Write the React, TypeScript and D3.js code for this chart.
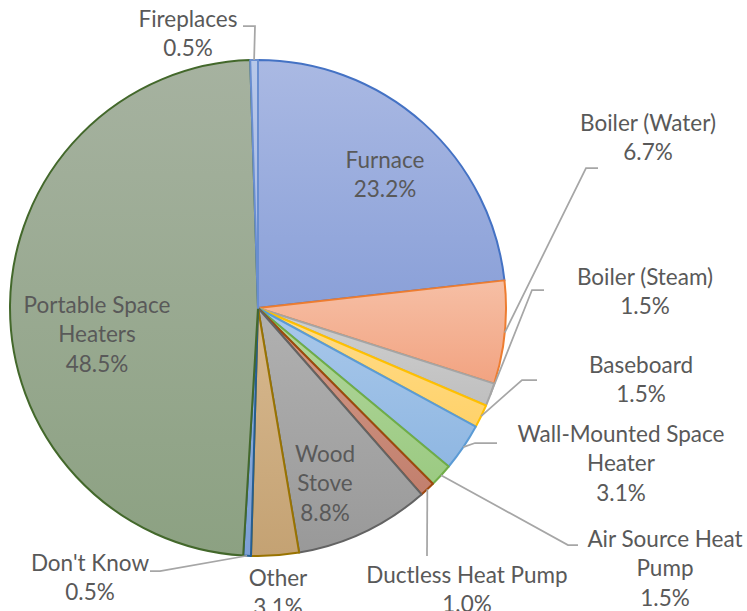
import React from "react";
import * as d3 from "d3";

const categories = [
  "Furnace",
  "Boiler (Water)",
  "Boiler (Steam)",
  "Baseboard",
  "Wall-Mounted Space Heater",
  "Air Source Heat Pump",
  "Ductless Heat Pump",
  "Wood Stove",
  "Other",
  "Don't Know",
  "Portable Space Heaters",
  "Fireplaces",
];
const values = [23.2, 6.7, 1.5, 1.5, 3.1, 1.5, 1.0, 8.8, 3.1, 0.5, 48.5, 0.5];
const labelLines = [
  ["Furnace"],
  ["Boiler (Water)"],
  ["Boiler (Steam)"],
  ["Baseboard"],
  ["Wall-Mounted Space", "Heater"],
  ["Air Source Heat", "Pump"],
  ["Ductless Heat Pump"],
  ["Wood", "Stove"],
  ["Other"],
  ["Don't Know"],
  ["Portable Space", "Heaters"],
  ["Fireplaces"],
];

// styles
const strokeColors = ["#4472c4", "#ed7d31", "#a5a5a5", "#ffc000", "#5b9bd5", "#70ad47", "#9e480e", "#636363", "#997300", "#255e91", "#43682b", "#698ed0"];
const fillTop = ["#aab9e3", "#f6bfa5", "#d0d0d0", "#ffdc8c", "#a9c8ea", "#b3d79d", "#d29c8c", "#b1b1b1", "#d8b990", "#92b0de", "#a6b2a0", "#b8c8e9"];
const fillBottom = ["#8aa0d8", "#f2a381", "#bfbfbf", "#ffd26a", "#8fb7e2", "#9bca82", "#c27f6d", "#999999", "#c4a273", "#7d9fd4", "#8ca182", "#a3b6e2"];

// label layout: [centerX, firstLineCenterY], leader elbow points (after slice edge)
const labelPos: [number, number][] = [
  [385, 160], [648, 123], [645, 277], [641, 365], [621, 434], [665, 539],
  [467, 575], [325, 454], [278, 578], [90, 563], [97, 305], [188, 19],
];
const leaders: ([number, number][] | null)[] = [
  null,
  [[586, 168], [598, 168]],
  [[532, 290], [544, 290]],
  [[522, 380], [537, 380]],
  [[475, 443], [497, 443]],
  [[568, 545], [578, 545]],
  [[427, 556]],
  null,
  null,
  [[160, 571], [150, 571]],
  null,
  [[255, 26], [243, 26]],
];

const W = 747, H = 611;
const cx = 258, cy = 308, R = 248;
const lineH = 29.5;

export default function App() {
  const pie = d3.pie<number>().sort(null).value((d) => d)(values);
  const arc = d3.arc<d3.PieArcDatum<number>>().innerRadius(0).outerRadius(R);
  const font = "Lato, 'Open Sans', sans-serif";
  return (
    <svg width={W} height={H} style={{ position: "absolute", left: 0, top: 0, background: "#fff" }}>
      <defs>
        {values.map((_, i) => (
          <linearGradient key={i} id={`g${i}`} x1="0" y1="0" x2="0" y2="1">
            <stop offset="0" stopColor={fillTop[i]} />
            <stop offset="1" stopColor={fillBottom[i]} />
          </linearGradient>
        ))}
      </defs>
      <rect x={0} y={0} width={W} height={H} fill="#fff" />
      <g transform={`translate(${cx},${cy})`}>
        {pie.map((p, i) => (
          <path key={i} d={arc(p) || ""} fill={`url(#g${i})`} stroke={strokeColors[i]} strokeWidth={2} strokeLinejoin="round" />
        ))}
      </g>
      {pie.map((p, i) => {
        const pts = leaders[i];
        if (!pts) return null;
        const a = (p.startAngle + p.endAngle) / 2;
        const sx = cx + R * Math.sin(a);
        const sy = cy - R * Math.cos(a);
        const all: [number, number][] = [[sx, sy], ...pts];
        return (
          <path key={"l" + i} d={d3.line()(all) || ""} fill="none" stroke="#a6a6a6" strokeWidth={1.75} />
        );
      })}
      {pie.map((p, i) => {
        const [x, y] = labelPos[i];
        const lines = [...labelLines[i], `${values[i].toFixed(1)}%`];
        return (
          <text key={"t" + i} x={x} fill="#595959" fontFamily={font} fontSize={22.5} textAnchor="middle">
            {lines.map((ln, j) => (
              <tspan key={j} x={x} y={y + j * lineH} dy="0.35em">{ln}</tspan>
            ))}
          </text>
        );
      })}
    </svg>
  );
}
